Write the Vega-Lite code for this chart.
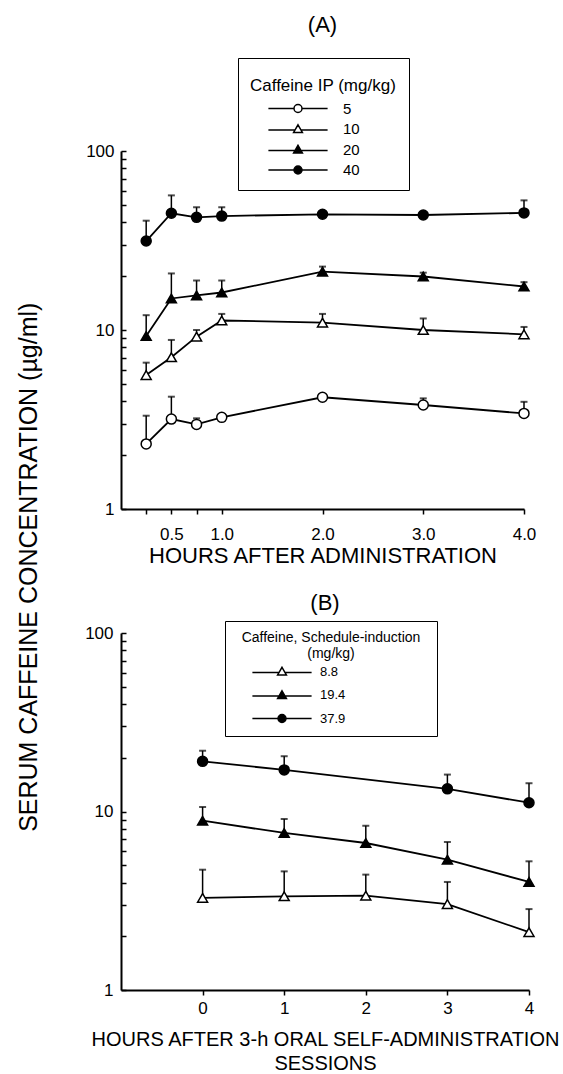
{
  "$schema": "https://vega.github.io/schema/vega-lite/v6.json",
  "padding": {"left": 16, "top": 13, "right": 5, "bottom": 0},
  "title": {"text": "SERUM CAFFEINE CONCENTRATION (µg/ml)", "orient": "left", "anchor": "middle", "fontSize": 25, "fontWeight": "normal", "font": "Liberation Sans", "color": "black", "offset": 43, "dx": -24},
  "datasets": {
    "A": [
      {"dose": "5", "hours": 0.25, "mean": 2.31, "upper": 3.32},
      {"dose": "5", "hours": 0.5, "mean": 3.18, "upper": 4.24},
      {"dose": "5", "hours": 0.75, "mean": 2.97, "upper": 3.21},
      {"dose": "5", "hours": 1, "mean": 3.25, "upper": null},
      {"dose": "5", "hours": 2, "mean": 4.21, "upper": null},
      {"dose": "5", "hours": 3, "mean": 3.81, "upper": 4.15},
      {"dose": "5", "hours": 4, "mean": 3.42, "upper": 3.97},
      {"dose": "10", "hours": 0.25, "mean": 5.6, "upper": 6.57},
      {"dose": "10", "hours": 0.5, "mean": 7.04, "upper": 8.8},
      {"dose": "10", "hours": 0.75, "mean": 9.18, "upper": 10.0},
      {"dose": "10", "hours": 1, "mean": 11.3, "upper": 12.3},
      {"dose": "10", "hours": 2, "mean": 11.0, "upper": 12.3},
      {"dose": "10", "hours": 3, "mean": 10.0, "upper": 11.6},
      {"dose": "10", "hours": 4, "mean": 9.46, "upper": 10.4},
      {"dose": "20", "hours": 0.25, "mean": 9.26, "upper": 12.1},
      {"dose": "20", "hours": 0.5, "mean": 15.0, "upper": 20.7},
      {"dose": "20", "hours": 0.75, "mean": 15.6, "upper": 18.9},
      {"dose": "20", "hours": 1, "mean": 16.2, "upper": 18.9},
      {"dose": "20", "hours": 2, "mean": 21.2, "upper": 22.6},
      {"dose": "20", "hours": 3, "mean": 19.9, "upper": 20.9},
      {"dose": "20", "hours": 4, "mean": 17.5, "upper": 18.5},
      {"dose": "40", "hours": 0.25, "mean": 31.4, "upper": 40.8},
      {"dose": "40", "hours": 0.5, "mean": 44.9, "upper": 56.5},
      {"dose": "40", "hours": 0.75, "mean": 42.6, "upper": 48.5},
      {"dose": "40", "hours": 1, "mean": 43.3, "upper": 48.5},
      {"dose": "40", "hours": 2, "mean": 44.3, "upper": null},
      {"dose": "40", "hours": 3, "mean": 43.9, "upper": null},
      {"dose": "40", "hours": 4, "mean": 45.1, "upper": 53.0}
    ],
    "B": [
      {"dose": "8.8", "hours": 0, "mean": 3.28, "upper": 4.72},
      {"dose": "8.8", "hours": 1, "mean": 3.35, "upper": 4.62},
      {"dose": "8.8", "hours": 2, "mean": 3.38, "upper": 4.43},
      {"dose": "8.8", "hours": 3, "mean": 3.03, "upper": 4.03},
      {"dose": "8.8", "hours": 4, "mean": 2.11, "upper": 2.84},
      {"dose": "19.4", "hours": 0, "mean": 8.88, "upper": 10.6},
      {"dose": "19.4", "hours": 1, "mean": 7.58, "upper": 9.08},
      {"dose": "19.4", "hours": 2, "mean": 6.66, "upper": 8.32},
      {"dose": "19.4", "hours": 3, "mean": 5.37, "upper": 6.75},
      {"dose": "19.4", "hours": 4, "mean": 4.03, "upper": 5.26},
      {"dose": "37.9", "hours": 0, "mean": 19.1, "upper": 21.9},
      {"dose": "37.9", "hours": 1, "mean": 17.1, "upper": 20.4},
      {"dose": "37.9", "hours": 3, "mean": 13.4, "upper": 16.1},
      {"dose": "37.9", "hours": 4, "mean": 11.2, "upper": 14.4}
    ]
  },
  "spacing": 25,
  "resolve": {"scale": {"shape": "independent", "fill": "independent", "stroke": "independent"}},
  "vconcat": [
    {
      "width": 403,
      "height": 358,
      "title": {"text": "(A)", "fontSize": 22, "offset": 21},
      "data": {"name": "A"},
      "resolve": {"scale": {"shape": "independent", "fill": "independent", "stroke": "independent"}},
      "encoding": {
        "x": {
          "field": "hours", "type": "quantitative",
          "scale": {"domain": [0, 4], "nice": false, "zero": false},
          "axis": {
            "title": "HOURS AFTER ADMINISTRATION",
            "titleFontSize": 22,
            "values": [0.25, 0.5, 0.75, 1, 2, 3, 4],
            "labelExpr": "datum.value == 0.25 || datum.value == 0.75 ? '' : format(datum.value, '.1f')",
            "tickSize": 5, "labelPadding": 12, "titlePadding": 3,
            "labelFlush": false, "labelOverlap": false
          }
        }
      },
      "layer": [
        {
          "transform": [{"filter": "isValid(datum.upper)"}],
          "mark": {"type": "rule", "color": "black", "strokeWidth": 1.5},
          "encoding": {
            "y": {"field": "mean", "type": "quantitative", "scale": {"type": "log", "domain": [1, 100], "nice": false},
              "axis": {"title": null, "values": [1, 2, 3, 4, 5, 6, 7, 8, 9, 10, 20, 30, 40, 50, 60, 70, 80, 90, 100], "format": "d", "labelExpr": "datum.value == 1 || datum.value == 10 || datum.value == 100 ? datum.label : ''", "tickSize": -5, "labelPadding": 12, "labelOverlap": false}},
            "y2": {"field": "upper"}
          }
        },
        {
          "transform": [{"filter": "isValid(datum.upper)"}],
          "mark": {"type": "tick", "orient": "horizontal", "size": 7, "thickness": 2, "color": "black"},
          "encoding": {
            "y": {"field": "upper", "type": "quantitative", "scale": {"type": "log", "domain": [1, 100], "nice": false},
              "axis": {"title": null, "values": [1, 2, 3, 4, 5, 6, 7, 8, 9, 10, 20, 30, 40, 50, 60, 70, 80, 90, 100], "format": "d", "labelExpr": "datum.value == 1 || datum.value == 10 || datum.value == 100 ? datum.label : ''", "tickSize": -5, "labelPadding": 12, "labelOverlap": false}}
          }
        },
        {
          "mark": {"type": "line", "color": "black", "strokeWidth": 1.8},
          "encoding": {
            "y": {"field": "mean", "type": "quantitative", "scale": {"type": "log", "domain": [1, 100], "nice": false},
              "axis": {"title": null, "values": [1, 2, 3, 4, 5, 6, 7, 8, 9, 10, 20, 30, 40, 50, 60, 70, 80, 90, 100], "format": "d", "labelExpr": "datum.value == 1 || datum.value == 10 || datum.value == 100 ? datum.label : ''", "tickSize": -5, "labelPadding": 12, "labelOverlap": false}},
            "detail": {"field": "dose"}
          }
        },
        {
          "mark": {"type": "point", "filled": true, "stroke": "black", "strokeWidth": 1.5, "size": 100, "opacity": 1},
          "encoding": {
            "y": {"field": "mean", "type": "quantitative", "scale": {"type": "log", "domain": [1, 100], "nice": false},
              "axis": {"title": null, "values": [1, 2, 3, 4, 5, 6, 7, 8, 9, 10, 20, 30, 40, 50, 60, 70, 80, 90, 100], "format": "d", "labelExpr": "datum.value == 1 || datum.value == 10 || datum.value == 100 ? datum.label : ''", "tickSize": -5, "labelPadding": 12, "labelOverlap": false}},
            "shape": {"field": "dose", "type": "nominal", "scale": {"domain": ["5", "10", "20", "40"], "range": ["circle", "triangle-up", "triangle-up", "circle"]}, "legend": null},
            "fill": {"field": "dose", "type": "nominal", "scale": {"domain": ["5", "10", "20", "40"], "range": ["white", "white", "black", "black"]}, "legend": null}
          }
        },
        {
          "mark": {"type": "point", "filled": false, "strokeWidth": 1.5, "size": 0, "opacity": 1},
          "encoding": {
            "y": {"field": "mean", "type": "quantitative", "scale": {"type": "log", "domain": [1, 100], "nice": false},
              "axis": {"title": null, "values": [1, 2, 3, 4, 5, 6, 7, 8, 9, 10, 20, 30, 40, 50, 60, 70, 80, 90, 100], "format": "d", "labelExpr": "datum.value == 1 || datum.value == 10 || datum.value == 100 ? datum.label : ''", "tickSize": -5, "labelPadding": 12, "labelOverlap": false}},
            "shape": {
              "field": "dose", "type": "nominal",
              "scale": {"domain": ["5", "10", "20", "40"], "range": ["M-7.4,0H-1M1,0H7.4M-1,0A1,1,0,1,1,1,0A1,1,0,1,1,-1,0Z", "M-7.4,0.25H-0.75M0.75,0.25H7.4M0,-1.05L1.1,0.85L-1.1,0.85Z", "M-7.4,0.25H-0.75M0.75,0.25H7.4M0,-1.05L1.1,0.85L-1.1,0.85Z", "M-7.4,0H-1M1,0H7.4M-1,0A1,1,0,1,1,1,0A1,1,0,1,1,-1,0Z"]},
              "legend": {"title": "Caffeine IP (mg/kg)", "orient": "none", "legendX": 117, "legendY": -93, "padding": 12, "strokeColor": "black", "titleFontSize": 17, "titleFontWeight": "normal", "titleColor": "black", "titleBaseline": "line-top", "titleLineHeight": 32, "titlePadding": 14, "labelFontSize": 15, "labelColor": "black", "symbolSize": 64, "symbolOffset": 40.5, "labelOffset": 37.5, "rowPadding": 4.5, "symbolStrokeWidth": 1.5, "symbolStrokeColor": "black", "symbolOpacity": 1}
            },
            "fill": {
              "field": "dose", "type": "nominal",
              "scale": {"domain": ["5", "10", "20", "40"], "range": ["white", "white", "black", "black"]},
              "legend": {"title": "Caffeine IP (mg/kg)", "orient": "none", "legendX": 117, "legendY": -93, "padding": 12, "strokeColor": "black", "titleFontSize": 17, "titleFontWeight": "normal", "titleColor": "black", "titleBaseline": "line-top", "titleLineHeight": 32, "titlePadding": 14, "labelFontSize": 15, "labelColor": "black", "symbolSize": 64, "symbolOffset": 40.5, "labelOffset": 37.5, "rowPadding": 4.5, "symbolStrokeWidth": 1.5, "symbolStrokeColor": "black", "symbolOpacity": 1}
            },
            "stroke": {
              "field": "dose", "type": "nominal",
              "scale": {"domain": ["5", "10", "20", "40"], "range": ["black", "black", "black", "black"]},
              "legend": {"title": "Caffeine IP (mg/kg)", "orient": "none", "legendX": 117, "legendY": -93, "padding": 12, "strokeColor": "black", "titleFontSize": 17, "titleFontWeight": "normal", "titleColor": "black", "titleBaseline": "line-top", "titleLineHeight": 32, "titlePadding": 14, "labelFontSize": 15, "labelColor": "black", "symbolSize": 64, "symbolOffset": 40.5, "labelOffset": 37.5, "rowPadding": 4.5, "symbolStrokeWidth": 1.5, "symbolStrokeColor": "black", "symbolOpacity": 1}
            }
          }
        }
      ]
    },
    {
      "width": 408,
      "height": 357,
      "title": {"text": "(B)", "fontSize": 22, "offset": 6},
      "data": {"name": "B"},
      "resolve": {"scale": {"shape": "independent", "fill": "independent", "stroke": "independent"}},
      "encoding": {
        "x": {
          "field": "hours", "type": "quantitative",
          "scale": {"domain": [-1, 4], "nice": false, "zero": false},
          "axis": {
            "title": ["HOURS AFTER 3-h ORAL SELF-ADMINISTRATION", "SESSIONS"],
            "titleLineHeight": 24,
            "values": [0, 1, 2, 3, 4],
            "format": "d",
            "tickSize": 5, "labelPadding": 5, "titlePadding": 13,
            "labelFlush": false, "labelOverlap": false
          }
        }
      },
      "layer": [
        {
          "transform": [{"filter": "isValid(datum.upper)"}],
          "mark": {"type": "rule", "color": "black", "strokeWidth": 1.5},
          "encoding": {
            "y": {"field": "mean", "type": "quantitative", "scale": {"type": "log", "domain": [1, 100], "nice": false},
              "axis": {"title": null, "values": [1, 2, 3, 4, 5, 6, 7, 8, 9, 10, 20, 30, 40, 50, 60, 70, 80, 90, 100], "format": "d", "labelExpr": "datum.value == 1 || datum.value == 10 || datum.value == 100 ? datum.label : ''", "tickSize": -5, "labelPadding": 13, "labelOverlap": false}},
            "y2": {"field": "upper"}
          }
        },
        {
          "transform": [{"filter": "isValid(datum.upper)"}],
          "mark": {"type": "tick", "orient": "horizontal", "size": 7, "thickness": 2, "color": "black"},
          "encoding": {
            "y": {"field": "upper", "type": "quantitative", "scale": {"type": "log", "domain": [1, 100], "nice": false},
              "axis": {"title": null, "values": [1, 2, 3, 4, 5, 6, 7, 8, 9, 10, 20, 30, 40, 50, 60, 70, 80, 90, 100], "format": "d", "labelExpr": "datum.value == 1 || datum.value == 10 || datum.value == 100 ? datum.label : ''", "tickSize": -5, "labelPadding": 13, "labelOverlap": false}}
          }
        },
        {
          "mark": {"type": "line", "color": "black", "strokeWidth": 1.8},
          "encoding": {
            "y": {"field": "mean", "type": "quantitative", "scale": {"type": "log", "domain": [1, 100], "nice": false},
              "axis": {"title": null, "values": [1, 2, 3, 4, 5, 6, 7, 8, 9, 10, 20, 30, 40, 50, 60, 70, 80, 90, 100], "format": "d", "labelExpr": "datum.value == 1 || datum.value == 10 || datum.value == 100 ? datum.label : ''", "tickSize": -5, "labelPadding": 13, "labelOverlap": false}},
            "detail": {"field": "dose"}
          }
        },
        {
          "mark": {"type": "point", "filled": true, "stroke": "black", "strokeWidth": 1.5, "size": 100, "opacity": 1},
          "encoding": {
            "y": {"field": "mean", "type": "quantitative", "scale": {"type": "log", "domain": [1, 100], "nice": false},
              "axis": {"title": null, "values": [1, 2, 3, 4, 5, 6, 7, 8, 9, 10, 20, 30, 40, 50, 60, 70, 80, 90, 100], "format": "d", "labelExpr": "datum.value == 1 || datum.value == 10 || datum.value == 100 ? datum.label : ''", "tickSize": -5, "labelPadding": 13, "labelOverlap": false}},
            "shape": {"field": "dose", "type": "nominal", "scale": {"domain": ["8.8", "19.4", "37.9"], "range": ["triangle-up", "triangle-up", "circle"]}, "legend": null},
            "fill": {"field": "dose", "type": "nominal", "scale": {"domain": ["8.8", "19.4", "37.9"], "range": ["white", "black", "black"]}, "legend": null}
          }
        },
        {
          "mark": {"type": "point", "filled": false, "strokeWidth": 1.5, "size": 0, "opacity": 1},
          "encoding": {
            "y": {"field": "mean", "type": "quantitative", "scale": {"type": "log", "domain": [1, 100], "nice": false},
              "axis": {"title": null, "values": [1, 2, 3, 4, 5, 6, 7, 8, 9, 10, 20, 30, 40, 50, 60, 70, 80, 90, 100], "format": "d", "labelExpr": "datum.value == 1 || datum.value == 10 || datum.value == 100 ? datum.label : ''", "tickSize": -5, "labelPadding": 13, "labelOverlap": false}},
            "shape": {
              "field": "dose", "type": "nominal",
              "scale": {"domain": ["8.8", "19.4", "37.9"], "range": ["M-7.4,0.25H-0.75M0.75,0.25H7.4M0,-1.05L1.1,0.85L-1.1,0.85ZM35.5,0", "M-7.4,0.25H-0.75M0.75,0.25H7.4M0,-1.05L1.1,0.85L-1.1,0.85ZM35.5,0", "M-7.4,0H-1M1,0H7.4M-1,0A1,1,0,1,1,1,0A1,1,0,1,1,-1,0ZM35.5,0"]},
              "legend": {"title": ["Caffeine, Schedule-induction", "(mg/kg)"], "orient": "none", "legendX": 104, "legendY": -12, "padding": 10, "strokeColor": "black", "titleFontSize": 14, "titleFontWeight": "normal", "titleColor": "black", "titleLineHeight": 16, "titleAnchor": "middle", "titleAlign": "center", "titlePadding": 4, "labelFontSize": 13, "labelColor": "black", "symbolSize": 64, "symbolOffset": 40.5, "labelOffset": 31.5, "rowPadding": 8.5, "symbolStrokeWidth": 1.5, "symbolStrokeColor": "black", "symbolOpacity": 1}
            },
            "fill": {
              "field": "dose", "type": "nominal",
              "scale": {"domain": ["8.8", "19.4", "37.9"], "range": ["white", "black", "black"]},
              "legend": {"title": ["Caffeine, Schedule-induction", "(mg/kg)"], "orient": "none", "legendX": 104, "legendY": -12, "padding": 10, "strokeColor": "black", "titleFontSize": 14, "titleFontWeight": "normal", "titleColor": "black", "titleLineHeight": 16, "titleAnchor": "middle", "titleAlign": "center", "titlePadding": 4, "labelFontSize": 13, "labelColor": "black", "symbolSize": 64, "symbolOffset": 40.5, "labelOffset": 31.5, "rowPadding": 8.5, "symbolStrokeWidth": 1.5, "symbolStrokeColor": "black", "symbolOpacity": 1}
            },
            "stroke": {
              "field": "dose", "type": "nominal",
              "scale": {"domain": ["8.8", "19.4", "37.9"], "range": ["black", "black", "black"]},
              "legend": {"title": ["Caffeine, Schedule-induction", "(mg/kg)"], "orient": "none", "legendX": 104, "legendY": -12, "padding": 10, "strokeColor": "black", "titleFontSize": 14, "titleFontWeight": "normal", "titleColor": "black", "titleLineHeight": 16, "titleAnchor": "middle", "titleAlign": "center", "titlePadding": 4, "labelFontSize": 13, "labelColor": "black", "symbolSize": 64, "symbolOffset": 40.5, "labelOffset": 31.5, "rowPadding": 8.5, "symbolStrokeWidth": 1.5, "symbolStrokeColor": "black", "symbolOpacity": 1}
            }
          }
        }
      ]
    }
  ],
  "config": {
    "font": "Liberation Sans",
    "view": {"stroke": null},
    "axis": {"grid": false, "domainColor": "black", "domainWidth": 2, "tickColor": "black", "tickWidth": 1.5, "labelColor": "black", "titleColor": "black", "labelFont": "Liberation Sans", "titleFont": "Liberation Sans", "titleFontWeight": "normal", "labelFontSize": 17, "titleFontSize": 20},
    "title": {"font": "Liberation Sans", "fontWeight": "normal", "color": "black", "fontSize": 22},
    "legend": {"labelFont": "Liberation Sans", "titleFont": "Liberation Sans"}
  }
}
